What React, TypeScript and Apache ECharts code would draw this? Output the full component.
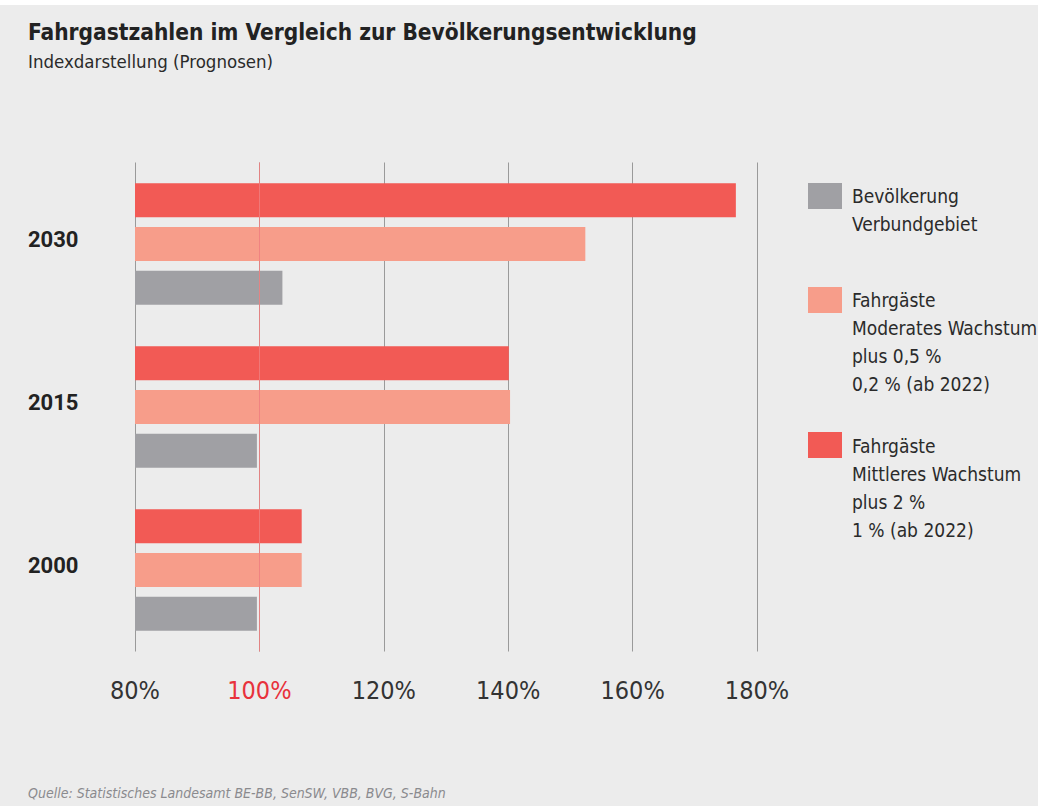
import React, { useEffect, useRef } from "react";
import * as echarts from "echarts";

const categories = ["2000", "2015", "2030"];
const mittleresWachstum = [106.8, 140.1, 176.6];
const moderatesWachstum = [106.8, 140.3, 152.4];
const bevoelkerung = [99.6, 99.6, 103.7];
const referenceLine = 100;

const seriesNames = {
  red: "Fahrgäste Mittleres Wachstum plus 2 % 1 % (ab 2022)",
  salmon: "Fahrgäste Moderates Wachstum plus 0,5 % 0,2 % (ab 2022)",
  gray: "Bevölkerung Verbundgebiet",
};

const legendItems = [
  { color: "#a0a0a4", lines: ["Bevölkerung", "Verbundgebiet"], top: 178, textTop: 177 },
  { color: "#f79d8a", lines: ["Fahrgäste", "Moderates Wachstum", "plus 0,5 %", "0,2 % (ab 2022)"], top: 282, textTop: 281 },
  { color: "#f25a55", lines: ["Fahrgäste", "Mittleres Wachstum", "plus 2 %", "1 % (ab 2022)"], top: 427, textTop: 427 },
];

const NARROW = "'DejaVu Sans Condensed', 'Liberation Sans Narrow', Roboto, sans-serif";

export default function App() {
  const ref = useRef<HTMLDivElement>(null);
  useEffect(() => {
    document.body.style.margin = "0";
    const chart = echarts.init(ref.current!, undefined, { renderer: "svg" });
    const graphics: any[] = [];
    legendItems.forEach((it) => {
      graphics.push({
        type: "rect",
        left: 808,
        top: it.top,
        shape: { width: 34, height: 26 },
        style: { fill: it.color },
      });
      graphics.push({
        type: "text",
        left: 852,
        top: it.textTop,
        style: {
          text: it.lines.join("\n"),
          font: `19px ${NARROW}`,
          lineHeight: 28,
          fill: "#2a2a2a",
        },
      });
    });
    chart.setOption({
      animation: false,
      backgroundColor: "#ececec",
      title: [
        {
          text: "Fahrgastzahlen im Vergleich zur Bevölkerungsentwicklung",
          left: 28,
          top: 15,
          padding: 0,
          textStyle: { fontFamily: NARROW, fontWeight: "bold", fontSize: 22.5, color: "#222" },
        },
        {
          text: "Indexdarstellung (Prognosen)",
          left: 28,
          top: 47,
          padding: 0,
          textStyle: { fontFamily: NARROW, fontWeight: "normal", fontSize: 18.5, color: "#2a2a2a" },
        },
        {
          text: "Quelle: Statistisches Landesamt BE-BB, SenSW, VBB, BVG, S-Bahn",
          left: 28,
          top: 781,
          padding: 0,
          textStyle: { fontFamily: NARROW, fontWeight: "normal", fontStyle: "italic", fontSize: 14, color: "#8a8a8e" },
        },
      ],
      grid: { left: 135, width: 622, top: 157.5, height: 489 },
      xAxis: {
        type: "value",
        min: 80,
        max: 180,
        interval: 20,
        axisLine: { show: false },
        axisTick: { show: false },
        axisLabel: {
          margin: 26,
          fontFamily: NARROW,
          fontSize: 25,
          color: (v: any) => (Number(v) === 100 ? "#e8323c" : "#333"),
          formatter: (v: number) => `${v}%`,
        },
        splitLine: {
          show: true,
          lineStyle: { width: 1, color: "#9a9a9a" },
        },
      },
      yAxis: {
        type: "category",
        data: categories,
        axisLine: { show: false },
        axisTick: { show: false },
        axisLabel: {
          margin: 107,
          align: "left",
          verticalAlign: "middle",
          formatter: (v: string) => `{y|${v}}`,
          rich: {
            y: {
              padding: [0, 0, 10, 0],
              fontFamily: "Roboto, sans-serif",
              fontWeight: "bold",
              fontSize: 22,
              color: "#222",
            },
          },
        },
      },
      series: [
        {
          name: seriesNames.red,
          type: "bar",
          data: mittleresWachstum,
          barWidth: 34,
          barGap: "29%",
          itemStyle: { color: "#f25a55" },
          markLine: {
            silent: true,
            symbol: "none",
            label: { show: false },
            lineStyle: { color: "#ef7f7f", width: 1, type: "solid", opacity: 0.85 },
            data: [{ xAxis: referenceLine }],
          },
        },
        {
          name: seriesNames.salmon,
          type: "bar",
          data: moderatesWachstum,
          barWidth: 34,
          barGap: "29%",
          itemStyle: { color: "#f79d8a" },
        },
        {
          name: seriesNames.gray,
          type: "bar",
          data: bevoelkerung,
          barWidth: 34,
          barGap: "29%",
          itemStyle: { color: "#a0a0a4" },
        },
      ],
      graphic: graphics,
    });
    return () => chart.dispose();
  }, []);
  return (
    <div style={{ width: 1038, height: 806, background: "#ffffff", position: "relative" }}>
      <div ref={ref} style={{ position: "absolute", left: 0, top: 5, width: 1038, height: 801 }} />
    </div>
  );
}
